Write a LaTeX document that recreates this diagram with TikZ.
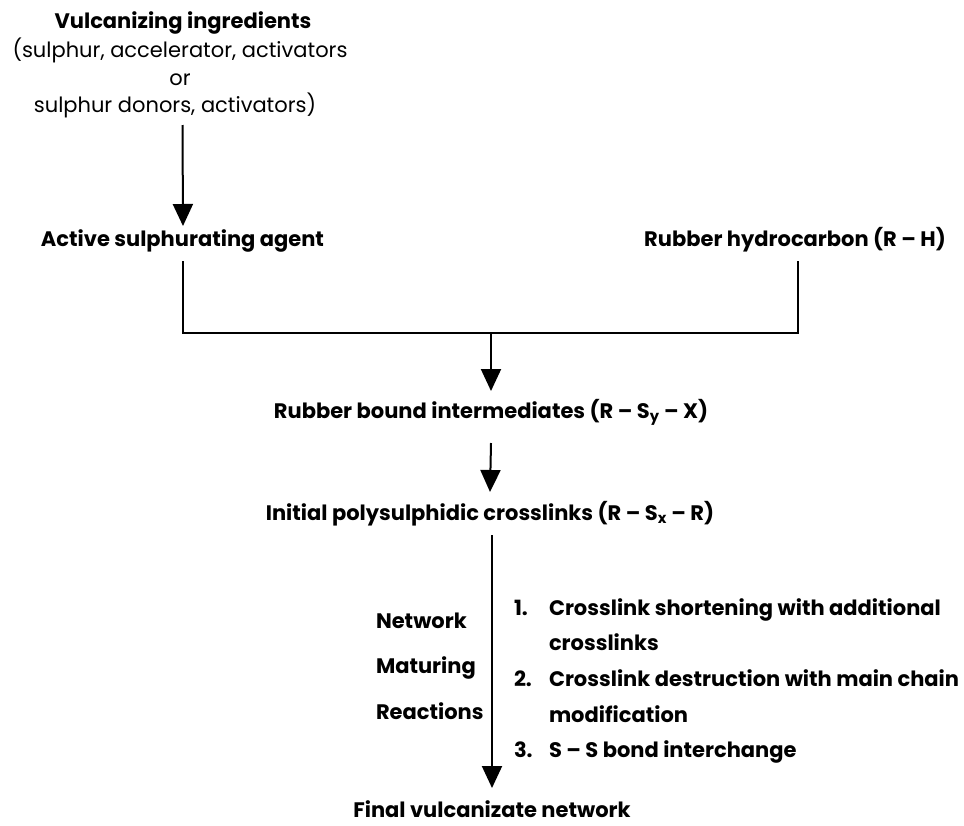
\documentclass[tikz,border=0pt]{standalone}
\usepackage{fontspec}
\setmainfont{Poppins}
\usetikzlibrary{arrows.meta}
\begin{document}
\begin{tikzpicture}[x=1pt,y=-1pt,line width=2pt,line join=miter,
  lbl/.style={inner sep=0pt,font=\fontsize{21}{25}\selectfont\bfseries},
  plain/.style={inner sep=0pt,font=\fontsize{21}{25}\selectfont},
  arr/.style={-{Triangle[width=20pt,length=22pt]}}]
\useasboundingbox (0,0) rectangle (964,825);
% title block
\node[lbl,anchor=base]   (ing1) at (183,28)  {Vulcanizing ingredients};
\node[plain,anchor=base] (ing2) at (180,57)  {(sulphur, accelerator, activators};
\node[plain,anchor=base] (ing3) at (180,85)  {or};
\node[plain,anchor=base] (ing4) at (175,112) {sulphur donors, activators)};
% second row
\node[lbl,anchor=base] (asa) at (182.5,246) {Active sulphurating agent};
\node[lbl,anchor=base] (rh)  at (795,246)   {Rubber hydrocarbon (R – H)};
% chain
\node[lbl,anchor=base] (rbi) at (491,418) {Rubber bound intermediates (R – S\textsubscript{y} – X)};
\node[lbl,anchor=base] (ipc) at (490,520) {Initial polysulphidic crosslinks (R – S\textsubscript{x} – R)};
\node[lbl,anchor=base] (fvn) at (492,817) {Final vulcanizate network};
% side labels
\node[lbl,anchor=base west] (nw) at (375,628) {Network};
\node[lbl,anchor=base west] (mt) at (375,673) {Maturing};
\node[lbl,anchor=base west] (re) at (375,719) {Reactions};
% list
\node[lbl,anchor=base west] (n1)  at (513,615) {1.};
\node[lbl,anchor=base west] (t1)  at (548,615) {Crosslink shortening with additional};
\node[lbl,anchor=base west] (t1b) at (548,650) {crosslinks};
\node[lbl,anchor=base west] (n2)  at (513,686) {2.};
\node[lbl,anchor=base west] (t2)  at (548,686) {Crosslink destruction with main chain};
\node[lbl,anchor=base west] (t2b) at (548,722) {modification};
\node[lbl,anchor=base west] (n3)  at (513,757) {3.};
\node[lbl,anchor=base west] (t3)  at (548,757) {S – S bond interchange};
% connectors
\coordinate (jl) at (183,333);
\coordinate (jr) at (798,333);
\coordinate (jm) at (491,333);
\draw[arr] ([xshift=7.5pt,yshift=-13pt]ing4.base) -- ([xshift=0.5pt,yshift=20pt]asa.base);
\draw ([yshift=-15pt]asa.base -| jl) -- (jl) -- (jr) -- ([yshift=-15pt]rh.base -| jr);
\draw[arr] (jm) -- ([yshift=27pt]rbi.base);
\draw[arr] ([yshift=-25pt]rbi.base) -- ([yshift=28pt]ipc.base);
\draw[arr] ([xshift=2pt,yshift=-15pt]ipc.base) -- ([yshift=29pt]fvn.base);
\end{tikzpicture}
\end{document}
